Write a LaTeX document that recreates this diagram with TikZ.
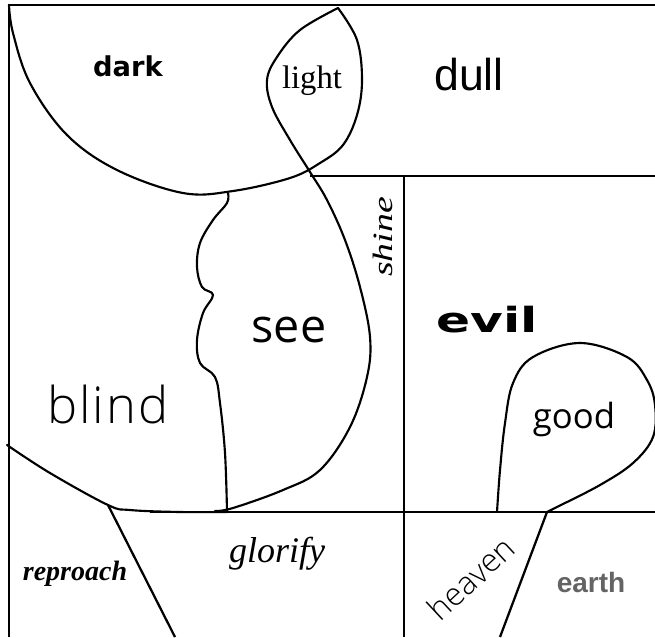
\documentclass[tikz,border=0pt]{standalone}
\usepackage{fontspec}
\usepackage{xcolor}
\usepackage{tikz}

\newfontfamily\arialfont{Liberation Sans}
\newfontfamily\timesfont{Liberation Serif}
\newfontfamily\shinefont{Liberation Serif}[FakeStretch=1.35]
\newfontfamily\opensansfont{Open Sans}
\IfFontExistsTF{Open Sans Light}
  {\newfontfamily\blindfont{Open Sans Light}[LetterSpace=4]
   \newfontfamily\heavenfont{Open Sans Light}}
  {\newfontfamily\blindfont{Open Sans}
   \newfontfamily\heavenfont{Open Sans}}
\newfontfamily\dejavufont{DejaVu Sans}
\newfontfamily\evilfont{DejaVu Sans}[FakeStretch=1.45]

\definecolor{earthgray}{RGB}{100,100,100}

\tikzset{
  border/.style={line width=1.7pt},
  curve/.style={line width=1.6pt, line join=round, line cap=round},
  word/.style={inner sep=0pt, anchor=base},
}

\begin{document}
\begin{tikzpicture}[x=0.75pt, y=-0.75pt]
\useasboundingbox (0,0) rectangle (655,637);

% frame and straight lines
\draw[border] (9,637) -- (9,5) -- (655,5);
\draw[border] (310,176) -- (655,176);
\draw[border] (404,176) -- (404,637);
\draw[border] (150,512) -- (655,512);
\draw[border] (108,505) -- (175,637);
\draw[border] (547,512) -- (500,637);

% dark
\draw[curve] plot[smooth, tension=0.6] coordinates {(9,5) (13,33) (30,83) (67,135) (117,170) (183,193) (233,191) (290,178) (320,163) (343,145) (357,115) (362,80) (357,40) (338,8)};
% light and see
\draw[curve] plot[smooth, tension=0.6] coordinates {(338,8) (300,30) (277,57) (267,80) (272,107) (290,140) (310,172) (327,200) (345,240) (360,287) (370,337) (367,377) (350,427) (320,470) (283,490) (233,508) (215,511)};
\draw[curve] plot[smooth, tension=0.6] coordinates {(228,193) (227,203) (213,220) (200,243) (197,267) (202,287) (213,295) (203,313) (197,340) (200,363) (215,377) (220,403) (225,453) (227,511)};
% blind
\draw[curve] plot[smooth, tension=0.6] coordinates {(7,445) (50,473) (108,505) (130,510) (180,512) (227,512)};
% good
\draw[curve] plot[smooth, tension=0.6] coordinates {(497,512) (500,470) (505,423) (513,383) (533,357) (580,343) (627,357) (647,380) (655,405) (653,437) (633,463) (600,485) (557,507) (547,512)};

\node[word, font=\dejavufont\bfseries\fontsize{20.5}{24}\selectfont] (dark) at (128,76) {dark};
\node[word, font=\timesfont\fontsize{24.5}{29}\selectfont] (light) at (312,88) {light};
\node[word, font=\arialfont\fontsize{33.5}{40}\selectfont] (dull) at (469,90) {dull};
\node[word, font=\opensansfont\fontsize{35}{42}\selectfont] (see) at (289,342) {see};
\node[word, font=\blindfont\fontsize{38}{46}\selectfont] (blind) at (108,423) {blind};
\node[word, rotate=90, font=\shinefont\itshape\fontsize{21}{25}\selectfont] (shine) at (392,237) {shine};
\node[word, font=\evilfont\bfseries\fontsize{26}{31}\selectfont] (evil) at (487,332) {evil};
\node[word, font=\opensansfont\fontsize{26}{31}\selectfont] (good) at (574,428) {good};
\node[word, font=\timesfont\itshape\fontsize{27}{32}\selectfont] (glorify) at (277,562) {glorify};
\node[word, font=\timesfont\bfseries\itshape\fontsize{21}{25}\selectfont] (reproach) at (75,580) {reproach};
\node[word, anchor=center, rotate=43, font=\heavenfont\fontsize{24}{29}\selectfont] (heaven) at (471,578) {heaven};
\node[word, text=earthgray, font=\arialfont\bfseries\fontsize{21}{25}\selectfont] (earth) at (591,592) {earth};
\end{tikzpicture}
\end{document}
